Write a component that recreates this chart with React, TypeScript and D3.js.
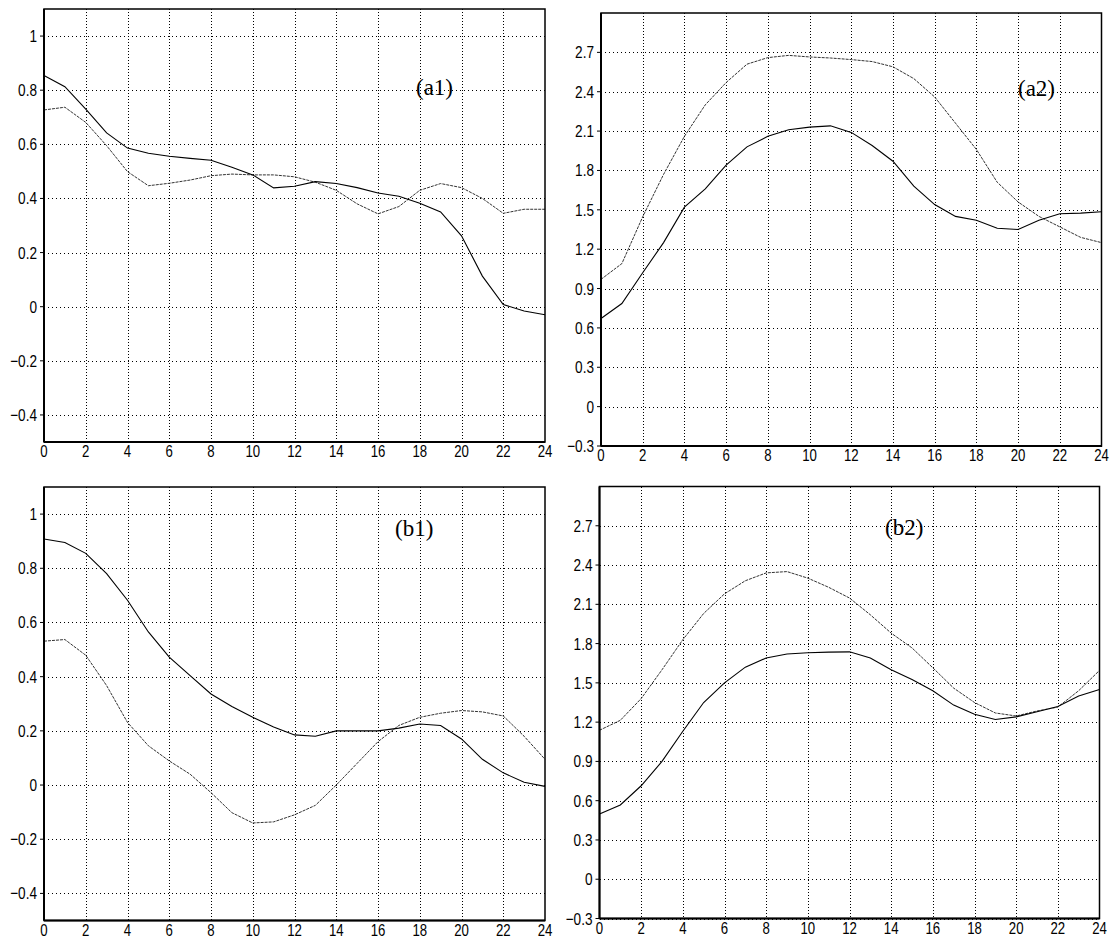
import React from "react";
import * as d3 from "d3";

// hours of day on the x axis
const HOURS = [0, 1, 2, 3, 4, 5, 6, 7, 8, 9, 10, 11, 12, 13, 14, 15, 16, 17, 18, 19, 20, 21, 22, 23, 24];
const X_TICKS = [0, 2, 4, 6, 8, 10, 12, 14, 16, 18, 20, 22, 24];

const Y_TICKS_1 = [-0.4, -0.2, 0, 0.2, 0.4, 0.6, 0.8, 1];
const Y_TICKS_2 = [-0.3, 0, 0.3, 0.6, 0.9, 1.2, 1.5, 1.8, 2.1, 2.4, 2.7];

// (a1)
const a1Solid = [0.854, 0.813, 0.73, 0.642, 0.586, 0.567, 0.556, 0.548, 0.541, 0.515, 0.487, 0.439, 0.445, 0.462, 0.455, 0.44, 0.42, 0.408, 0.382, 0.35, 0.262, 0.113, 0.008, -0.016, -0.03];
const a1Dash = [0.727, 0.737, 0.681, 0.595, 0.499, 0.447, 0.456, 0.468, 0.484, 0.49, 0.487, 0.487, 0.48, 0.46, 0.43, 0.38, 0.343, 0.37, 0.43, 0.455, 0.44, 0.4, 0.345, 0.36, 0.36];

// (a2)
const a2Solid = [0.672, 0.786, 1.02, 1.25, 1.52, 1.66, 1.84, 1.98, 2.06, 2.11, 2.13, 2.14, 2.09, 1.99, 1.87, 1.68, 1.54, 1.45, 1.42, 1.36, 1.35, 1.42, 1.47, 1.475, 1.485];
const a2Dash = [0.97, 1.09, 1.447, 1.77, 2.06, 2.3, 2.47, 2.61, 2.66, 2.677, 2.665, 2.657, 2.645, 2.63, 2.59, 2.5, 2.36, 2.16, 1.96, 1.71, 1.56, 1.45, 1.37, 1.29, 1.25];

// (b1)
const b1Solid = [0.908, 0.895, 0.855, 0.78, 0.682, 0.565, 0.472, 0.404, 0.336, 0.29, 0.25, 0.214, 0.185, 0.18, 0.2, 0.2, 0.2, 0.21, 0.225, 0.22, 0.17, 0.095, 0.045, 0.01, -0.005];
const b1Dash = [0.531, 0.537, 0.479, 0.367, 0.231, 0.145, 0.089, 0.04, -0.028, -0.102, -0.14, -0.136, -0.11, -0.075, 0.0, 0.08, 0.16, 0.22, 0.25, 0.265, 0.275, 0.27, 0.255, 0.18, 0.095];

// (b2)
const b2Solid = [0.498, 0.567, 0.714, 0.9, 1.13, 1.35, 1.5, 1.62, 1.69, 1.72, 1.73, 1.735, 1.737, 1.69, 1.6, 1.526, 1.44, 1.33, 1.26, 1.22, 1.24, 1.28, 1.32, 1.4, 1.45];
const b2Dash = [1.138, 1.214, 1.38, 1.6, 1.83, 2.03, 2.18, 2.28, 2.34, 2.35, 2.3, 2.23, 2.148, 2.02, 1.88, 1.767, 1.615, 1.46, 1.35, 1.27, 1.247, 1.285, 1.315, 1.44, 1.595];

const panels = [
  { label: "(a1)", solid: a1Solid, dash: a1Dash, yTicks: Y_TICKS_1, domain: [-0.5, 1.1], x0: 44, x1: 545, y0: 9, y1: 442, lx: 416, ly: 95 },
  { label: "(a2)", solid: a2Solid, dash: a2Dash, yTicks: Y_TICKS_2, domain: [-0.3, 3.0], x0: 601, x1: 1101.5, y0: 13, y1: 446, lx: 1018, ly: 96 },
  { label: "(b1)", solid: b1Solid, dash: b1Dash, yTicks: Y_TICKS_1, domain: [-0.5, 1.1], x0: 44, x1: 545, y0: 487, y1: 920.5, lx: 395, ly: 536 },
  { label: "(b2)", solid: b2Solid, dash: b2Dash, yTicks: Y_TICKS_2, domain: [-0.3, 3.0], x0: 599.5, x1: 1099.5, y0: 486.5, y1: 918.5, lx: 885, ly: 535 },
];

const fmt = (v: number) => {
  const s = d3.format("~g")(+v.toFixed(2));
  return s.replace("-", "\u2212");
};

const tickFont = "'Liberation Sans', Arial, sans-serif";
const px = (v: number) => Math.round(v) + 0.5;

function Panel({ p }: { p: any }) {
  const x = d3.scaleLinear().domain([0, 24]).range([p.x0, p.x1]);
  const y = d3.scaleLinear().domain(p.domain).range([p.y1, p.y0]);
  const line = d3
    .line<number>()
    .x((_, i) => x(HOURS[i]))
    .y((d) => y(d));

  return (
    <g>
      {/* grid */}
      {p.yTicks.map((t: number) => (
        <line key={"gy" + t} x1={p.x0} x2={p.x1} y1={px(y(t))} y2={px(y(t))} stroke="#000" strokeWidth={1} strokeDasharray="1,3" shapeRendering="crispEdges" />
      ))}
      {X_TICKS.filter((t) => t > 0 && t < 24).map((t) => (
        <line key={"gx" + t} x1={px(x(t))} x2={px(x(t))} y1={p.y0} y2={p.y1} stroke="#000" strokeWidth={1} strokeDasharray="1,2" shapeRendering="crispEdges" />
      ))}

      {/* series */}
      <path d={line(p.dash) || ""} fill="none" stroke="#333" strokeWidth={1} strokeDasharray="3,1" />
      <path d={line(p.solid) || ""} fill="none" stroke="#000" strokeWidth={1.1} />

      {/* frame */}
      <rect x={p.x0} y={p.y0} width={p.x1 - p.x0} height={p.y1 - p.y0} fill="none" stroke="#000" strokeWidth={1.5} />
      <line x1={p.x0} x2={p.x0} y1={p.y0} y2={p.y1} stroke="#000" strokeWidth={2} />
      <line x1={p.x0} x2={p.x1} y1={p.y1} y2={p.y1} stroke="#000" strokeWidth={2} />

      {/* y ticks */}
      {p.yTicks.map((t: number) => (
        <g key={"ty" + t}>
          <line x1={p.x0 - 4} x2={p.x0} y1={y(t)} y2={y(t)} stroke="#000" strokeWidth={1} />
          <text
            transform={`translate(${p.x0 - 7},${y(t) + 6}) scale(0.8,1)`}
            textAnchor="end"
            fontFamily={tickFont}
            fontSize={17}
            fill="#000"
          >
            {fmt(t)}
          </text>
        </g>
      ))}

      {/* x ticks */}
      {X_TICKS.map((t) => (
        <text
          key={"tx" + t}
          transform={`translate(${x(t)},${p.y1 + 15}) scale(0.8,1)`}
          textAnchor="middle"
          fontFamily={tickFont}
          fontSize={16.5}
          fill="#000"
        >
          {t}
        </text>
      ))}

      <text x={p.lx} y={p.ly} fontFamily="'Liberation Serif', 'Times New Roman', serif" fontSize={23} fill="#000">
        {p.label}
      </text>
    </g>
  );
}

export default function App() {
  return (
    <svg width={1111} height={939} style={{ position: "absolute", left: 0, top: 0, background: "#fff" }}>
      <rect width={1111} height={939} fill="#fff" />
      {panels.map((p) => (
        <Panel key={p.label} p={p} />
      ))}
    </svg>
  );
}
